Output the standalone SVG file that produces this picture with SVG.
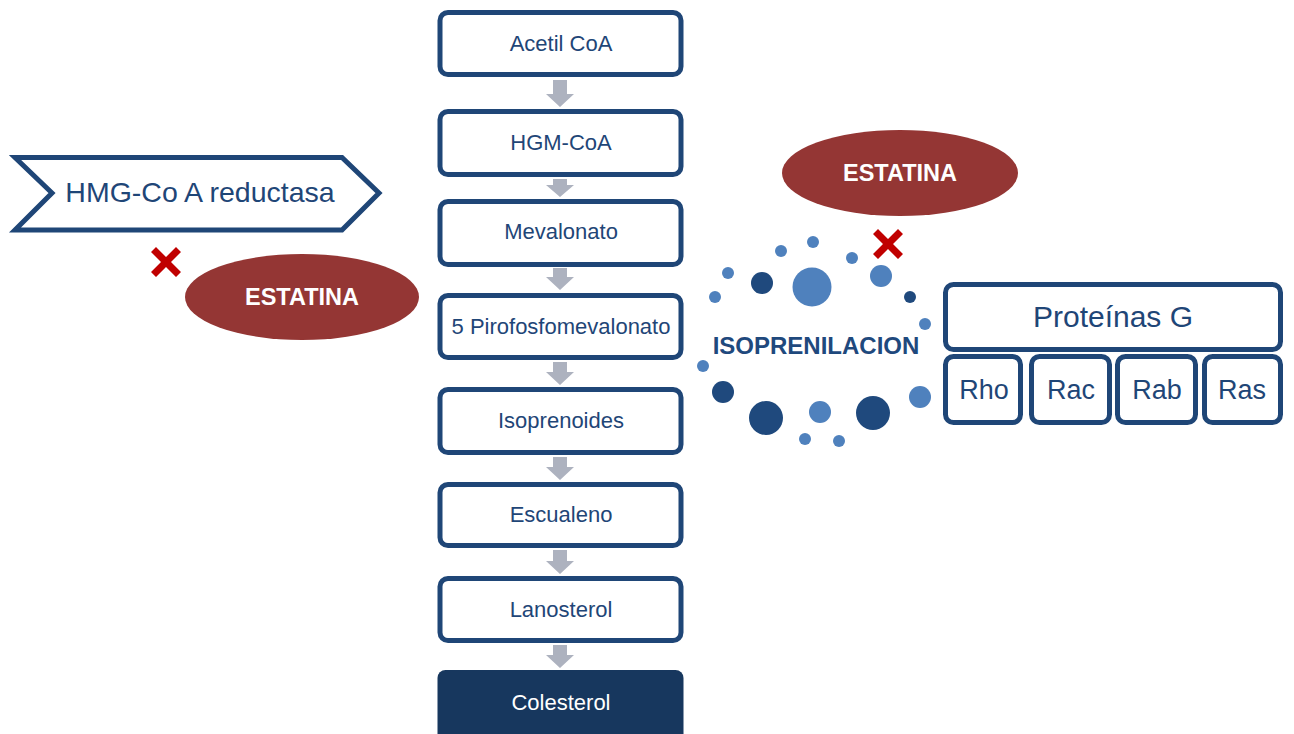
<svg xmlns="http://www.w3.org/2000/svg" width="1294" height="734" viewBox="0 0 1294 734">
<style>
.box{fill:#fff;stroke:#1f4677;stroke-width:5}
.t{font-family:"Liberation Sans",Arial,sans-serif;fill:#1f4677;text-anchor:middle}
.m{font-size:22px}
.s{font-size:27px}
.bt{font-family:"Liberation Sans",Arial,sans-serif;font-weight:bold;text-anchor:middle}
.arr{fill:#adb2bf}
.est{fill:#943634}
.lt{fill:#4f81bd}
.dk{fill:#1f497d}
.x{fill:#c00000}
</style>
<rect width="1294" height="734" fill="#fff"/>
<g id="connectors">
<path class="arr" d="M553,80 H567 V94 H574 L560,107 L546,94 H553 Z"/>
<path class="arr" d="M553,179 H567 V185 H574 L560,197 L546,185 H553 Z"/>
<path class="arr" d="M553,268 H567 V277 H574 L560,290 L546,277 H553 Z"/>
<path class="arr" d="M553,362 H567 V372 H574 L560,385 L546,372 H553 Z"/>
<path class="arr" d="M553,457 H567 V467 H574 L560,480 L546,467 H553 Z"/>
<path class="arr" d="M553,550 H567 V561 H574 L560,574 L546,561 H553 Z"/>
<path class="arr" d="M553,645 H567 V655 H574 L560,668 L546,655 H553 Z"/>
</g>
<g id="acetil"><rect class="box" x="440" y="12.5" width="241" height="62" rx="8"/><text class="t m" x="561" y="51">Acetil CoA</text></g>
<g id="hgm"><rect class="box" x="440" y="111.5" width="241" height="63" rx="8"/><text class="t m" x="561" y="150">HGM-CoA</text></g>
<g id="mevalonato"><rect class="box" x="440" y="201.5" width="241" height="63" rx="8"/><text class="t m" x="561" y="239">Mevalonato</text></g>
<g id="pirofosfo"><rect class="box" x="440" y="295.5" width="241" height="62" rx="8"/><text class="t m" x="561" y="334">5 Pirofosfomevalonato</text></g>
<g id="isoprenoides"><rect class="box" x="440" y="389.5" width="241" height="63" rx="8"/><text class="t m" x="561" y="428">Isoprenoides</text></g>
<g id="escualeno"><rect class="box" x="440" y="484.5" width="241" height="61" rx="8"/><text class="t m" x="561" y="522">Escualeno</text></g>
<g id="lanosterol"><rect class="box" x="440" y="578.5" width="241" height="62" rx="8"/><text class="t m" x="561" y="617">Lanosterol</text></g>
<g id="colesterol"><rect x="437.5" y="670" width="246" height="80" rx="8" fill="#17375e"/><text class="t m" x="561" y="710" style="fill:#fff">Colesterol</text></g>
<g id="hmg-reductasa"><path d="M15,157.5 H342 L379,193 L342,230 H15 L52,193 Z" fill="#fff" stroke="#1f4677" stroke-width="5"/><text class="t" x="200" y="202" font-size="28.5">HMG-Co A reductasa</text></g>
<g id="x-left"><path class="x" d="M151,252 L156,247 L166,257 L176,247 L181,252 L171,262 L181,272 L176,277 L166,267 L156,277 L151,272 L161,262 Z"/></g>
<g id="estatina-left"><ellipse class="est" cx="302" cy="297" rx="117" ry="43"/><text class="bt" x="302" y="305" font-size="23.5" fill="#fff">ESTATINA</text></g>
<g id="estatina-right"><ellipse class="est" cx="900" cy="173" rx="118" ry="43"/><text class="bt" x="900" y="181" font-size="23.5" fill="#fff">ESTATINA</text></g>
<g id="x-right"><path class="x" d="M873,234 L878,229 L888,239 L898,229 L903,234 L893,244 L903,254 L898,259 L888,249 L878,259 L873,254 L883,244 Z"/></g>
<g id="isoprenilacion">
<circle class="lt" cx="813" cy="242" r="6"/>
<circle class="lt" cx="781" cy="251" r="6"/>
<circle class="lt" cx="852" cy="258" r="6"/>
<circle class="lt" cx="728" cy="273" r="6"/>
<circle class="dk" cx="762" cy="283" r="11"/>
<circle class="lt" cx="812" cy="287" r="19.5"/>
<circle class="lt" cx="881" cy="276" r="11"/>
<circle class="lt" cx="715" cy="297" r="6"/>
<circle class="dk" cx="910" cy="297" r="6"/>
<circle class="lt" cx="925" cy="324" r="6"/>
<circle class="lt" cx="703" cy="366" r="6"/>
<circle class="dk" cx="723" cy="392" r="11"/>
<circle class="dk" cx="766" cy="418" r="17"/>
<circle class="lt" cx="820" cy="412" r="11"/>
<circle class="dk" cx="873" cy="413" r="17"/>
<circle class="lt" cx="920" cy="397" r="11"/>
<circle class="lt" cx="805" cy="439" r="6"/>
<circle class="lt" cx="839" cy="441" r="6"/>
<text class="bt" x="816" y="354" font-size="24" fill="#1f497d">ISOPRENILACION</text>
</g>
<g id="proteinas-g"><rect class="box" x="945.5" y="284.5" width="335" height="65" rx="8"/><text class="t" x="1113" y="327" font-size="30">Proteínas G</text></g>
<g id="rho"><rect class="box" x="945.5" y="356.5" width="75" height="66" rx="8"/><text class="t s" x="984" y="399">Rho</text></g>
<g id="rac"><rect class="box" x="1031.5" y="356.5" width="78" height="66" rx="8"/><text class="t s" x="1071" y="399">Rac</text></g>
<g id="rab"><rect class="box" x="1117.5" y="356.5" width="78" height="66" rx="8"/><text class="t s" x="1157" y="399">Rab</text></g>
<g id="ras"><rect class="box" x="1204.5" y="356.5" width="76" height="66" rx="8"/><text class="t s" x="1242" y="399">Ras</text></g>
</svg>
